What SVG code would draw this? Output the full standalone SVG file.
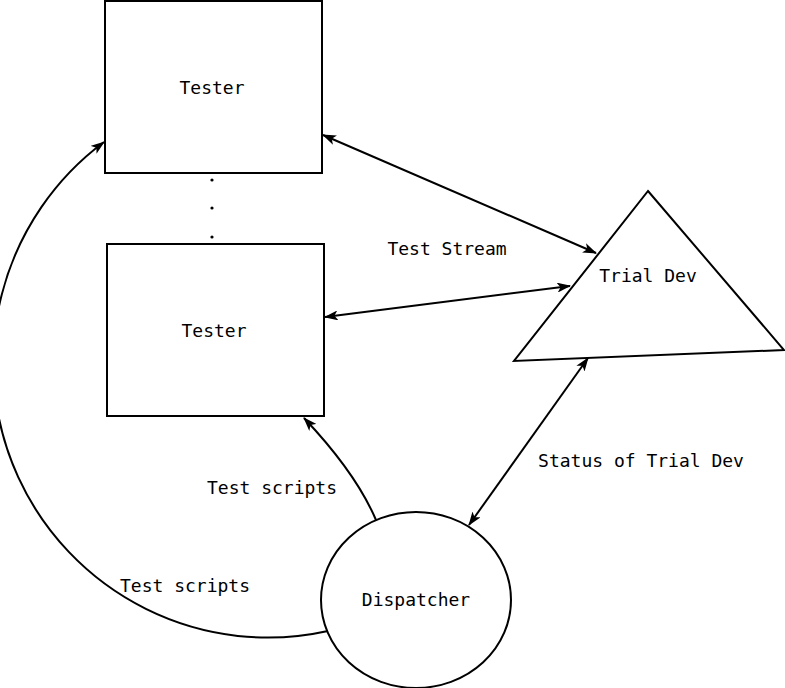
<svg xmlns="http://www.w3.org/2000/svg" width="785" height="688" viewBox="0 0 785 688">
<style>
.s{fill:#fff;stroke:#000;stroke-width:2}
.c{fill:none;stroke:#000;stroke-width:2}
.t{font-family:"DejaVu Sans Mono",monospace;font-size:18px;fill:#000}
.m{text-anchor:middle;dominant-baseline:central}
</style>
<defs>
<marker id="a" viewBox="0 0 14 10" refX="13" refY="5" markerWidth="14" markerHeight="10" markerUnits="userSpaceOnUse" orient="auto-start-reverse">
<path d="M0,0 L14,5 L0,10 L3.5,5 Z" fill="#000"/>
</marker>
</defs>
<rect width="785" height="688" fill="#fff"/>
<g id="tester1"><rect class="s" x="105" y="1" width="217" height="172"/><text class="t m" x="212" y="87">Tester</text></g>
<g id="tester2"><rect class="s" x="107" y="244" width="217" height="172"/><text class="t m" x="214" y="330">Tester</text></g>
<g id="dots"><circle cx="212" cy="180" r="1.6"/><circle cx="212" cy="208" r="1.6"/><circle cx="212" cy="237" r="1.6"/></g>
<g id="trialdev"><polygon class="s" points="648,191 784,350 514,361"/><text class="t m" x="648" y="275">Trial Dev</text></g>
<g id="dispatcher"><ellipse class="s" cx="416" cy="600" rx="95" ry="88"/><text class="t m" x="416" y="599">Dispatcher</text></g>
<g id="connectors">
<path class="c" d="M323,135 L596,253" marker-start="url(#a)" marker-end="url(#a)"/>
<path class="c" d="M325,317 L570,286" marker-start="url(#a)" marker-end="url(#a)"/>
<path class="c" d="M588,358 L469,525" marker-start="url(#a)" marker-end="url(#a)"/>
<path class="c" d="M376,520 Q356,473 304,418" marker-end="url(#a)"/>
<path class="c" d="M328,631 A275 275 0 0 1 104,142" marker-end="url(#a)"/>
</g>
<g id="labels">
<text class="t m" x="447" y="248">Test Stream</text>
<text class="t m" x="641" y="460">Status of Trial Dev</text>
<text class="t m" x="272" y="487">Test scripts</text>
<text class="t m" x="185" y="585">Test scripts</text>
</g>
</svg>
